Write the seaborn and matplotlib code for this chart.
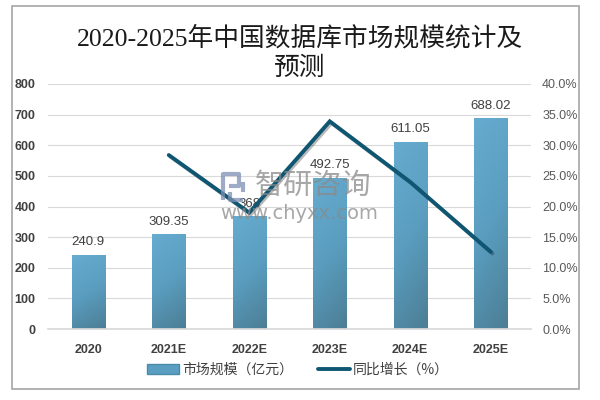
import numpy as np
import pandas as pd
import matplotlib
matplotlib.use("Agg")
import matplotlib.pyplot as plt
import matplotlib.patheffects as pe
from matplotlib.colors import LinearSegmentedColormap
from matplotlib.ticker import PercentFormatter
from matplotlib.lines import Line2D
from matplotlib.patches import Rectangle
import seaborn as sns

# data
years = ["2020", "2021E", "2022E", "2023E", "2024E", "2025E"]
market_size = [240.9, 309.35, 368.0, 492.75, 611.05, 688.02]
size_labels = ["240.9", "309.35", "368", "492.75", "611.05", "688.02"]
growth_years = ["2021E", "2022E", "2023E", "2024E", "2025E"]
growth_pct = [28.4, 19.0, 33.9, 24.0, 12.6]

sns.set_theme(style="white")
plt.rcParams["font.family"] = ["Liberation Sans", "Noto Sans CJK SC", "DejaVu Sans"]

df = pd.DataFrame({"year": years, "size": market_size})
df_g = pd.DataFrame({"year": growth_years, "growth": [g / 100 for g in growth_pct]})

fig = plt.figure(figsize=(6, 4), dpi=100)
ax = fig.add_axes([0.08, 0.1775, 0.805, 0.6125])

sns.barplot(data=df, x="year", y="size", order=years, color="#5a9fc2",
            width=0.41, edgecolor="#4a8aab", linewidth=0.6, ax=ax, zorder=2)
ax.set_xlim(-0.5, 5.5)
ax.set_ylim(0, 800)

# gradient fill on bars: light at top-left, darker towards the bottom
cmap = LinearSegmentedColormap.from_list("bar", ["#66acd0", "#5a9dbf", "#4c7e95"])
gu, gv = np.meshgrid(np.linspace(0, 1, 40), np.linspace(0, 1, 80))
grad = 0.8 * gv + 0.2 * gu
for bar in ax.patches:
    x0, y0 = bar.get_x(), bar.get_y()
    w, h = bar.get_width(), bar.get_height()
    im = ax.imshow(grad, extent=[x0, x0 + w, y0, y0 + h], origin="upper",
                   aspect="auto", cmap=cmap, zorder=2.1)
    im.set_clip_path(bar)
ax.set_xlim(-0.5, 5.5)
ax.set_ylim(0, 800)

for i, lab in enumerate(size_labels):
    ax.text(i, market_size[i] + 22, lab, ha="center", va="bottom",
            fontsize=9.5, color="#404040", zorder=5)

ax.set_yticks(range(0, 801, 100))
ax.yaxis.grid(True, color="#d9d9d9", linewidth=0.8)
ax.set_axisbelow(True)
for s in ["top", "left", "right"]:
    ax.spines[s].set_visible(False)
ax.spines["bottom"].set_color("#d9d9d9")
ax.tick_params(axis="both", length=0, colors="#404040", labelsize=9)
ax.tick_params(axis="y", pad=9)
ax.tick_params(axis="x", pad=11)
for t in ax.get_xticklabels() + ax.get_yticklabels():
    t.set_fontweight("bold")
ax.set_xlabel("")
ax.set_ylabel("")

ax2 = ax.twinx()
sns.lineplot(data=df_g, x="year", y="growth", ax=ax2, color="#0f5672",
             linewidth=2.8, zorder=4, solid_capstyle="round", solid_joinstyle="miter",
             path_effects=[pe.SimpleLineShadow(offset=(1.2, -1.2), alpha=0.3),
                           pe.Normal()])
ax2.set_xlim(-0.5, 5.5)
ax2.set_ylim(0, 0.40)
ax2.set_yticks(np.arange(0, 0.401, 0.05))
ax2.yaxis.set_major_formatter(PercentFormatter(1.0, decimals=1))
ax2.tick_params(axis="y", length=0, colors="#595959", labelsize=9, pad=8)
for s in ["top", "left", "right", "bottom"]:
    ax2.spines[s].set_visible(False)
ax2.set_ylabel("")
ax2.set_xlabel("")

# watermark: small logo drawn with strokes, then the text
logo_kw = dict(transform=fig.transFigure, color="#7d8fb3", alpha=0.75,
               linewidth=3, solid_capstyle="butt", zorder=10)
fig.add_artist(Line2D([0.372, 0.372, 0.398, 0.398, 0.382], [0.50, 0.565, 0.565, 0.535, 0.535], **logo_kw))
fig.add_artist(Line2D([0.383, 0.383, 0.405], [0.52, 0.50, 0.50], **logo_kw))
fig.add_artist(Line2D([0.405, 0.405], [0.545, 0.52], **logo_kw))
fig.text(0.425, 0.535, "智研咨询", fontsize=21, color="#8a8a8a", alpha=0.75,
         ha="left", va="center", family=["Noto Sans CJK SC"], zorder=10)
fig.text(0.367, 0.466, "www.chyxx.com", fontsize=14, color="#8a8a8a", alpha=0.75,
         ha="left", va="center", family=["DejaVu Sans"], zorder=10)

# title
title_font = ["Liberation Serif", "Noto Sans CJK SC"]
fig.text(0.5, 0.905, "2020-2025年中国数据库市场规模统计及", ha="center", va="center",
         fontsize=18.5, color="#1a1a1a", family=title_font)
fig.text(0.5, 0.83, "预测", ha="center", va="center", fontsize=18.5,
         color="#1a1a1a", family=title_font)

# legend
handles = [Rectangle((0, 0), 1, 1, facecolor="#5a9fc2", edgecolor="#4a8aab"),
           Line2D([0], [0], color="#0f5672", linewidth=2.8)]
fig.legend(handles, ["市场规模（亿元）", "同比增长（%）"], loc="center",
           bbox_to_anchor=(0.497, 0.075), ncol=2, frameon=False,
           handlelength=2.3, handletextpad=0.2, columnspacing=1.8,
           labelcolor="#404040",
           prop={"family": ["Noto Sans CJK SC"], "size": 10})

# outer frame
fig.add_artist(Rectangle((0.02, 0.028), 0.945, 0.957, transform=fig.transFigure,
                         fill=False, edgecolor="#a6a6a6", linewidth=1.2))

fig.savefig("out.png", dpi=100)
